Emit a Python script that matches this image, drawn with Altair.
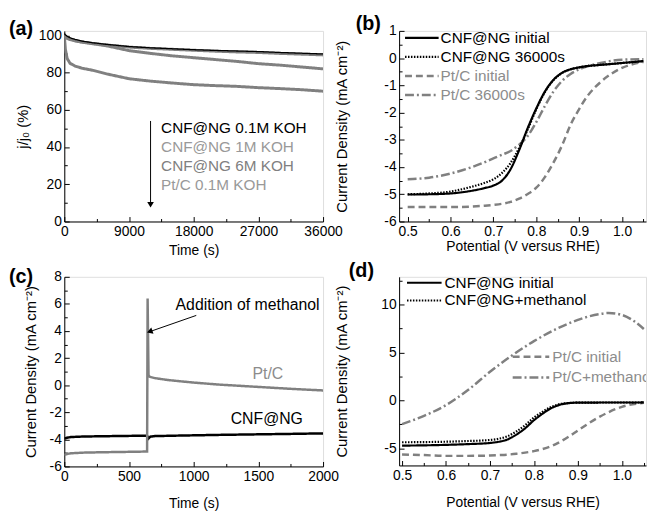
import altair as alt
import pandas as pd

FONT = "Liberation Sans"
GRAY = "#808080"
GRAY_TXT = "#8c8c8c"

# ---------------- (a) stability ----------------
a_time = [0, 150, 400, 800, 1500, 2500, 4000, 6000, 9000, 12000, 15000, 18000,
          21000, 24000, 27000, 30000, 33000, 36000]
a_cnf_01 = [101, 100.3, 99.5, 98.7, 97.8, 96.9, 96.0, 95.1, 94.0, 93.3, 92.8, 92.3,
            91.9, 91.6, 91.3, 90.8, 90.4, 90.0]
a_cnf_1 = [100, 99.5, 98.8, 98.0, 97.2, 96.4, 95.6, 94.8, 93.7, 93.0, 92.5, 92.0,
           91.5, 91.1, 90.8, 90.3, 89.9, 89.5]
a_cnf_6 = [99.5, 99.0, 98.3, 97.7, 97.0, 96.3, 95.5, 94.3, 91.8, 90.3, 89.0, 88.0,
           87.0, 86.0, 84.8, 84.0, 83.0, 82.0]
a_ptc = [100, 92.5, 87.5, 85.0, 83.5, 82.3, 81.2, 79.2, 76.7, 75.4, 74.4, 73.5,
         73.0, 72.6, 71.9, 71.4, 70.8, 70.0]
a_labels = ["CNF@NG 0.1M KOH", "CNF@NG 1M KOH", "CNF@NG 6M KOH", "Pt/C 0.1M KOH"]
a_label_colors = ["#000000", "#999999", "#808080", "#999999"]
a_arrow_t = [12000, 12000]
a_arrow_v = [54, 9]

# ---------------- (b) LSV before / after ----------------
b_pot = [0.50, 0.55, 0.60, 0.65, 0.68, 0.70, 0.72, 0.74, 0.76, 0.78, 0.80, 0.82,
         0.84, 0.86, 0.88, 0.90, 0.92, 0.95, 1.00, 1.05]
b_cnf_init = [-5.01, -5.00, -4.97, -4.87, -4.77, -4.68, -4.50, -4.08, -3.38, -2.57,
              -1.85, -1.23, -0.80, -0.54, -0.41, -0.34, -0.29, -0.25, -0.18, -0.11]
b_cnf_36k = [-5.00, -4.97, -4.90, -4.72, -4.58, -4.45, -4.22, -3.85, -3.30, -2.62,
             -1.88, -1.25, -0.81, -0.55, -0.41, -0.34, -0.29, -0.25, -0.18, -0.11]
b_pt_init = [-5.47, -5.47, -5.47, -5.45, -5.42, -5.39, -5.35, -5.28, -5.16, -4.99,
             -4.76, -4.37, -3.84, -3.21, -2.45, -1.87, -1.38, -0.88, -0.36, -0.14]
b_pt_36k = [-4.45, -4.39, -4.24, -4.00, -3.82, -3.68, -3.55, -3.41, -3.18, -2.86,
            -2.35, -1.76, -1.23, -0.84, -0.58, -0.41, -0.30, -0.18, -0.06, -0.04]
b_labels = ["CNF@NG initial", "CNF@NG 36000s", "Pt/C initial", "Pt/C 36000s"]

# ---------------- (c) methanol crossover ----------------
c_t_cnf = [0, 20, 50, 150, 300, 450, 640, 650, 665, 700, 900, 1200, 1500, 1800, 2000]
c_cnf = [-3.95, -3.88, -3.83, -3.79, -3.77, -3.75, -3.73, -3.95, -3.80, -3.76,
         -3.72, -3.67, -3.63, -3.59, -3.56]
c_t_pt = [0, 20, 50, 150, 300, 450, 640, 644, 651, 660, 700, 800, 1000, 1200,
          1500, 1750, 2000]
c_pt = [-5.15, -5.08, -5.03, -4.98, -4.95, -4.93, -4.90, 6.40, 0.75, 0.62, 0.52,
        0.38, 0.19, 0.04, -0.13, -0.27, -0.39]
c_note = "Addition of methanol"
c_note_pos = [860, 5.9]
c_arrow = [1020, 5.15, 660, 3.95]
c_pt_label = ["Pt/C", 1573, 0.85]
c_cnf_label = ["CNF@NG", 1565, -2.5]

# ---------------- (d) LSV with methanol ----------------
d_pot = [0.50, 0.55, 0.60, 0.65, 0.70, 0.72, 0.74, 0.76, 0.78, 0.80, 0.82, 0.84,
         0.86, 0.88, 0.90, 0.95, 1.00, 1.05]
d_cnf_init = [-4.73, -4.70, -4.65, -4.57, -4.45, -4.33, -4.08, -3.58, -2.92, -2.08,
              -1.38, -0.80, -0.45, -0.29, -0.24, -0.23, -0.23, -0.22]
d_cnf_meth = [-4.38, -4.36, -4.32, -4.25, -4.14, -4.01, -3.75, -3.25, -2.60, -1.80,
              -1.18, -0.68, -0.38, -0.27, -0.24, -0.23, -0.23, -0.22]
d_pt_init = [-5.65, -5.72, -5.80, -5.80, -5.76, -5.72, -5.67, -5.58, -5.46, -5.30,
             -5.08, -4.78, -4.32, -3.77, -3.15, -1.70, -0.68, -0.25]
d_pot2 = [0.50, 0.55, 0.60, 0.65, 0.70, 0.75, 0.80, 0.85, 0.90, 0.95, 0.97, 1.00,
          1.03, 1.05]
d_pt_meth = [-2.48, -1.62, -0.50, 1.08, 2.98, 4.68, 6.18, 7.43, 8.40, 9.02, 9.12,
             8.92, 8.20, 7.45]
d_labels = ["CNF@NG  initial", "CNF@NG+methanol", "Pt/C  initial", "Pt/C+methanol"]

YT_CD = "Current Density (mA cm⁻²)"
LEG = 15.5


def lab_expr(fmt):
    return (f"datum.value < 0 ? '-' + format(-datum.value, '{fmt}') "
            f": format(datum.value, '{fmt}')")


def base_axis(orient, values, fmt, title, tpad, tsize=14):
    return alt.Axis(orient=orient, values=values, labelExpr=lab_expr(fmt), title=title,
                    ticks=False, tickSize=0, grid=False, domain=True, domainColor="black",
                    labelPadding=3, titlePadding=tpad, labelFont=FONT, labelFontSize=14,
                    labelColor="black", titleFont=FONT, titleFontSize=tsize,
                    titleFontWeight="normal", titleColor="black", labelFlush=False,
                    labelOverlap=False)


def tick_axis(orient, values, size):
    return alt.Axis(orient=orient, values=values, offset=-size, tickSize=size,
                    domain=False, labels=False, title=None, grid=False, ticks=True,
                    tickColor="black", tickWidth=1)


def make_panel(series, xs, ys, w, h, xax, yax, xmaj, xmin, ymaj, ymin, extras, interp):
    layers = []
    first = True
    for xv, yv, color, dash, sw in series:
        df = pd.DataFrame({"x": xv, "y": yv})
        mk = alt.Chart(df).mark_line(color=color, strokeWidth=sw, clip=True,
                                     interpolate=interp, strokeDash=dash)
        mk = mk.encode(x=alt.X("x:Q", scale=xs, axis=xax if first else None),
                       y=alt.Y("y:Q", scale=ys, axis=yax if first else None))
        layers.append(mk)
        first = False
    df0 = pd.DataFrame({"x": series[0][0], "y": series[0][1]})
    for xv_, yv_, sz in [(xmaj, ymaj, 5), (xmin, ymin, 3)]:
        layers.append(alt.Chart(df0).mark_point(opacity=0).encode(
            x=alt.X("x:Q", scale=xs, axis=tick_axis("bottom", xv_, sz)),
            y=alt.Y("y:Q", scale=ys, axis=tick_axis("left", yv_, sz))))
    layers.extend(extras)
    return alt.layer(*layers).resolve_axis(x="independent", y="independent").properties(
        width=w, height=h)


def txt(label, x, y, color="black", size=LEG, align="left", baseline="middle", clip=False,
        weight="normal"):
    return alt.Chart(pd.DataFrame({"t": [label]})).mark_text(
        font=FONT, fontSize=size, color=color, align=align, baseline=baseline, clip=clip,
        fontWeight=weight
    ).encode(x=alt.value(x), y=alt.value(y), text="t:N")


def panel_label(label, x, y):
    return txt(label, x, y, size=20, weight="bold")


def leg_line(x1, x2, y, color, dash, sw):
    return alt.Chart(pd.DataFrame({"d": [0]})).mark_rule(
        color=color, strokeDash=dash, strokeWidth=sw).encode(
        x=alt.value(x1), x2=alt.value(x2), y=alt.value(y))


SOLID = [1, 0]
DOT = [1.5, 1.5]
DASH = [7, 4]
DASHDOT = [9, 3, 2, 3]

# ---- panel a ----
xs_a = alt.Scale(domain=[0, 36000], nice=False, zero=False)
ys_a = alt.Scale(domain=[0, 102.4], nice=False, zero=False)
a_extras = []
for i, (lab, col) in enumerate(zip(a_labels, a_label_colors)):
    a_extras.append(txt(lab, 98, 98 + i * 19.5, col))
a_arrow_df = pd.DataFrame({"x": [a_arrow_t[0]], "y": [a_arrow_v[0]], "y2": [a_arrow_v[1]]})
a_extras.append(alt.Chart(a_arrow_df).mark_rule(color="black", strokeWidth=1).encode(
    x=alt.X("x:Q", scale=xs_a, axis=None), y=alt.Y("y:Q", scale=ys_a, axis=None), y2="y2:Q"))
a_extras.append(alt.Chart(pd.DataFrame({"x": [a_arrow_t[1]], "y": [a_arrow_v[1]]})).mark_point(
    shape="triangle-down", filled=True, color="black", size=45, opacity=1).encode(
    x=alt.X("x:Q", scale=xs_a, axis=None), y=alt.Y("y:Q", scale=ys_a, axis=None)))
a_extras.append(panel_label("(a)", -56, -2))
panel_a = make_panel(
    [(a_time, a_cnf_1, GRAY, SOLID, 3), (a_time, a_cnf_6, GRAY, SOLID, 3),
     (a_time, a_ptc, GRAY, SOLID, 3), (a_time, a_cnf_01, "#000000", SOLID, 1.3)],
    xs_a, ys_a, 262, 193,
    base_axis("bottom", [0, 9000, 18000, 27000, 36000], "d", "Time (s)", 5),
    base_axis("left", [0, 20, 40, 60, 80, 100], "d", "j/j₀ (%)", 8, 15),
    [0, 9000, 18000, 27000, 36000], [4500, 13500, 22500, 31500],
    [0, 20, 40, 60, 80, 100], [10, 30, 50, 70, 90],
    a_extras, "linear")

# ---- panel b ----
xs_b = alt.Scale(domain=[0.48, 1.056], nice=False, zero=False)
ys_b = alt.Scale(domain=[-6, 1], nice=False, zero=False)
b_styles = [("#000000", SOLID, 2.2, "#000000"), ("#000000", DOT, 2.2, "#000000"),
            (GRAY, DASH, 2.5, GRAY_TXT), (GRAY, DASHDOT, 2.5, GRAY_TXT)]
b_extras = []
for i, (lab, (col, dash, sw, tcol)) in enumerate(zip(b_labels, b_styles)):
    yy = 7 + i * 19.3
    b_extras.append(leg_line(6, 40, yy, col, dash, sw))
    b_extras.append(txt(lab, 42, yy, tcol))
b_extras.append(panel_label("(b)", -44, -7))
panel_b = make_panel(
    [(b_pot, b_pt_init, GRAY, DASH, 2.5), (b_pot, b_pt_36k, GRAY, DASHDOT, 2.5),
     (b_pot, b_cnf_36k, "#000000", DOT, 2.2), (b_pot, b_cnf_init, "#000000", SOLID, 2.2)],
    xs_b, ys_b, 250, 193,
    base_axis("bottom", [0.5, 0.6, 0.7, 0.8, 0.9, 1.0], ".1f", "Potential (V versus RHE)", 1),
    base_axis("left", [-6, -5, -4, -3, -2, -1, 0, 1], "d", YT_CD, 35, 15),
    [0.5, 0.6, 0.7, 0.8, 0.9, 1.0], [0.55, 0.65, 0.75, 0.85, 0.95, 1.05],
    [-6, -5, -4, -3, -2, -1, 0, 1], [-5.5, -4.5, -3.5, -2.5, -1.5, -0.5, 0.5],
    b_extras, "monotone")

# ---- panel c ----
xs_c = alt.Scale(domain=[0, 2000], nice=False, zero=False)
ys_c = alt.Scale(domain=[-6, 8], nice=False, zero=False)


def data_txt(label, x, y, color, xs, ys, align, size=LEG):
    return alt.Chart(pd.DataFrame({"x": [x], "y": [y], "t": [label]})).mark_text(
        font=FONT, fontSize=size, color=color, align=align, baseline="middle").encode(
        x=alt.X("x:Q", scale=xs, axis=None), y=alt.Y("y:Q", scale=ys, axis=None), text="t:N")


c_extras = [
    data_txt(c_note, c_note_pos[0], c_note_pos[1], "black", xs_c, ys_c, "left", 16),
    data_txt(c_pt_label[0], c_pt_label[1], c_pt_label[2], GRAY_TXT, xs_c, ys_c, "center", 16),
    data_txt(c_cnf_label[0], c_cnf_label[1], c_cnf_label[2], "black", xs_c, ys_c, "center", 16),
    alt.Chart(pd.DataFrame({"x": [c_arrow[0]], "y": [c_arrow[1]], "x2": [c_arrow[2]],
                            "y2": [c_arrow[3]]})).mark_rule(color="black", strokeWidth=1).encode(
        x=alt.X("x:Q", scale=xs_c, axis=None), y=alt.Y("y:Q", scale=ys_c, axis=None),
        x2="x2:Q", y2="y2:Q"),
    alt.Chart(pd.DataFrame({"x": [c_arrow[2]], "y": [c_arrow[3]]})).mark_point(
        shape="triangle-up", filled=True, color="black", size=45, opacity=1, angle=251).encode(
        x=alt.X("x:Q", scale=xs_c, axis=None), y=alt.Y("y:Q", scale=ys_c, axis=None)),
    panel_label("(c)", -56, 0),
]
panel_c = make_panel(
    [(c_t_cnf, c_cnf, "#000000", SOLID, 2.5), (c_t_pt, c_pt, GRAY, SOLID, 2.5)],
    xs_c, ys_c, 262, 192,
    base_axis("bottom", [0, 500, 1000, 1500, 2000], "d", "Time (s)", 14),
    base_axis("left", [-6, -4, -2, 0, 2, 4, 6, 8], "d", YT_CD, 11, 15),
    [0, 500, 1000, 1500, 2000], [250, 750, 1250, 1750],
    [-6, -4, -2, 0, 2, 4, 6, 8], [-5, -3, -1, 1, 3, 5, 7],
    c_extras, "linear")

# ---- panel d ----
xs_d = alt.Scale(domain=[0.4933, 1.055], nice=False, zero=False)
ys_d = alt.Scale(domain=[-6.8, 12.9], nice=False, zero=False)
d_styles = [("#000000", SOLID, 2.2, "#000000"), ("#000000", DOT, 2.2, "#000000"),
            (GRAY, DASH, 2.5, GRAY_TXT), (GRAY, DASHDOT, 2.5, GRAY_TXT)]
d_pos = [(8, 43, 46, 6), (8, 43, 46, 24), (115, 152, 155, 81), (115, 152, 155, 102)]
d_extras = []
for lab, (col, dash, sw, tcol), (x1, x2, xt, yy) in zip(d_labels, d_styles, d_pos):
    d_extras.append(leg_line(x1, x2, yy, col, dash, sw))
    d_extras.append(txt(lab, xt, yy, tcol, clip=True))
d_extras.append(panel_label("(d)", -51, -6))
panel_d = make_panel(
    [(d_pot, d_pt_init, GRAY, DASH, 2.5), (d_pot2, d_pt_meth, GRAY, DASHDOT, 2.5),
     (d_pot, d_cnf_meth, "#000000", DOT, 2.2), (d_pot, d_cnf_init, "#000000", SOLID, 2.2)],
    xs_d, ys_d, 250, 191,
    base_axis("bottom", [0.5, 0.6, 0.7, 0.8, 0.9, 1.0], ".1f", "Potential (V versus RHE)", 14),
    base_axis("left", [-5, 0, 5, 10], "d", YT_CD, 32, 15),
    [0.5, 0.6, 0.7, 0.8, 0.9, 1.0], [0.55, 0.65, 0.75, 0.85, 0.95, 1.05],
    [-5, 0, 5, 10], [-2.5, 2.5, 7.5, 12.5],
    d_extras, "monotone")

chart = alt.concat(panel_a, panel_b, panel_c, panel_d, columns=2,
                   spacing={"row": 56, "column": 77}, bounds="flush").properties(
    padding={"left": 0, "top": 2, "right": 0, "bottom": 0}
).configure_view(stroke=None).configure(background="white")

chart.save("out.html", embed_options={"renderer": "svg", "actions": False})
